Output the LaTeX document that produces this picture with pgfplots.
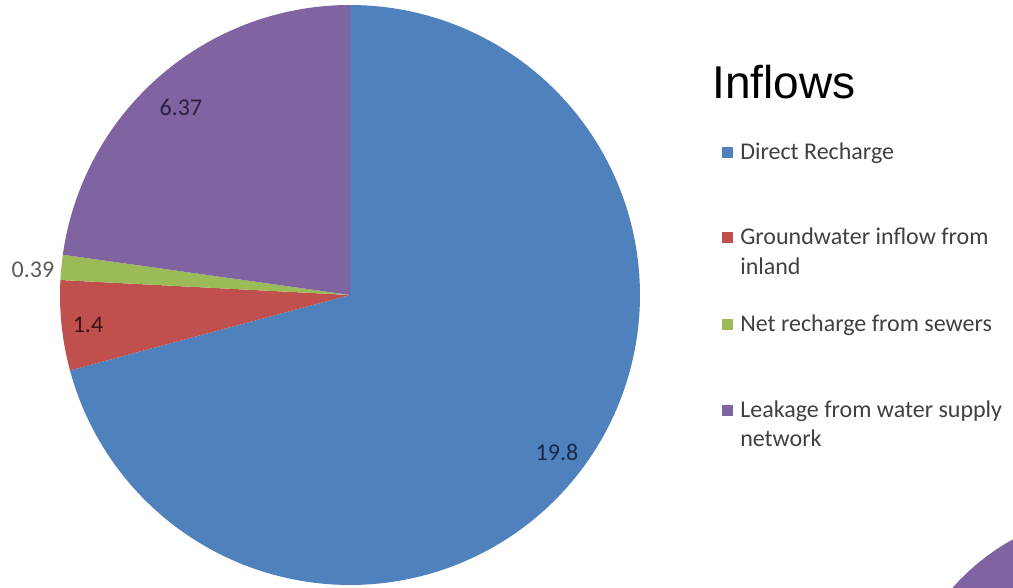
\documentclass[border=0pt]{standalone}
\usepackage{pgfplots}
\pgfplotsset{compat=1.18}
\usepackage{fontspec}
\setmainfont{Carlito}
\newfontfamily\arialfont{Liberation Sans}
\definecolor{pieblue}{HTML}{4F81BD}
\definecolor{piered}{HTML}{C0504D}
\definecolor{piegreen}{HTML}{9BBB59}
\definecolor{piepurple}{HTML}{8064A2}
\definecolor{lblblue}{HTML}{17284A}
\definecolor{lblred}{HTML}{3A1414}
\definecolor{lblpurple}{HTML}{2B1F40}
\definecolor{lblgray}{HTML}{595959}
\definecolor{legtext}{HTML}{404040}
\tikzset{
  legtxt/.style={font=\fontsize{18}{22.5}\selectfont, text=legtext, anchor=base west, inner sep=0pt},
  pielbl/.style={font=\fontsize{18}{20}\selectfont},
}
\pgfplotsset{legmark/.style={only marks, mark=square*, mark size=3.9pt, forget plot}}
% values of the four inflows
\def\vA{19.8}
\def\vB{1.4}
\def\vC{0.39}
\def\vD{6.37}
\pgfmathsetmacro\tot{\vA+\vB+\vC+\vD}
\pgfmathsetmacro\aA{90-360*\vA/\tot}
\pgfmathsetmacro\aB{\aA-360*\vB/\tot}
\pgfmathsetmacro\aC{\aB-360*\vC/\tot}
\pgfmathsetmacro\aD{\aC-360*\vD/\tot}
\begin{document}
\begin{tikzpicture}
\begin{axis}[
  width=759.75pt, height=441pt, scale only axis,
  xmin=0, xmax=1013, ymin=0, ymax=588,
  hide axis, clip=true,
]
\addplot[fill=pieblue, draw=none, domain=\aA:90, samples=150]
  ({350+290*cos(x)},{293+290*sin(x)}) -- (axis cs:350,293) -- cycle;
\addplot[fill=piered, draw=none, domain=\aB:\aA, samples=30]
  ({350+290*cos(x)},{293+290*sin(x)}) -- (axis cs:350,293) -- cycle;
\addplot[fill=piegreen, draw=none, domain=\aC:\aB, samples=15]
  ({350+290*cos(x)},{293+290*sin(x)}) -- (axis cs:350,293) -- cycle;
\addplot[fill=piepurple, draw=none, domain=\aD:\aC, samples=80]
  ({350+290*cos(x)},{293+290*sin(x)}) -- (axis cs:350,293) -- cycle;
% partial pie visible at the lower right corner (clipped by the axis)
\addplot[fill=piepurple, draw=none, domain=0:360, samples=120, forget plot]
  ({1124.6+230*cos(x)},{-152.3+230*sin(x)}) -- cycle;
% legend
\addplot[legmark, color=pieblue] coordinates {(727,436)};
\addplot[legmark, color=piered] coordinates {(727,351)};
\addplot[legmark, color=piegreen] coordinates {(727,264)};
\addplot[legmark, color=piepurple] coordinates {(727,178)};
\node[legtxt] at (axis cs:740,428) {Direct Recharge};
\node[legtxt] at (axis cs:740,343) {Groundwater inflow from};
\node[legtxt] at (axis cs:740,313) {inland};
\node[legtxt] at (axis cs:740,256) {Net recharge from sewers};
\node[legtxt] at (axis cs:740,170) {Leakage from water supply};
\node[legtxt] at (axis cs:740,141) {network};
% data labels
\node[pielbl, text=lblblue] at (axis cs:557,136) {19.8};
\node[pielbl, text=lblred] at (axis cs:88,263) {1.4};
\node[pielbl, text=lblgray] at (axis cs:33,318) {0.39};
\node[pielbl, text=lblpurple] at (axis cs:181,480) {6.37};
% legend title
\node[font=\arialfont\fontsize{34.5}{40}\selectfont, anchor=base west, inner sep=0pt] at (axis cs:712,489) {Inflows};
\end{axis}
\pgfresetboundingbox
\path[use as bounding box] (current axis.south west) rectangle (current axis.north east);
\end{tikzpicture}
\end{document}
